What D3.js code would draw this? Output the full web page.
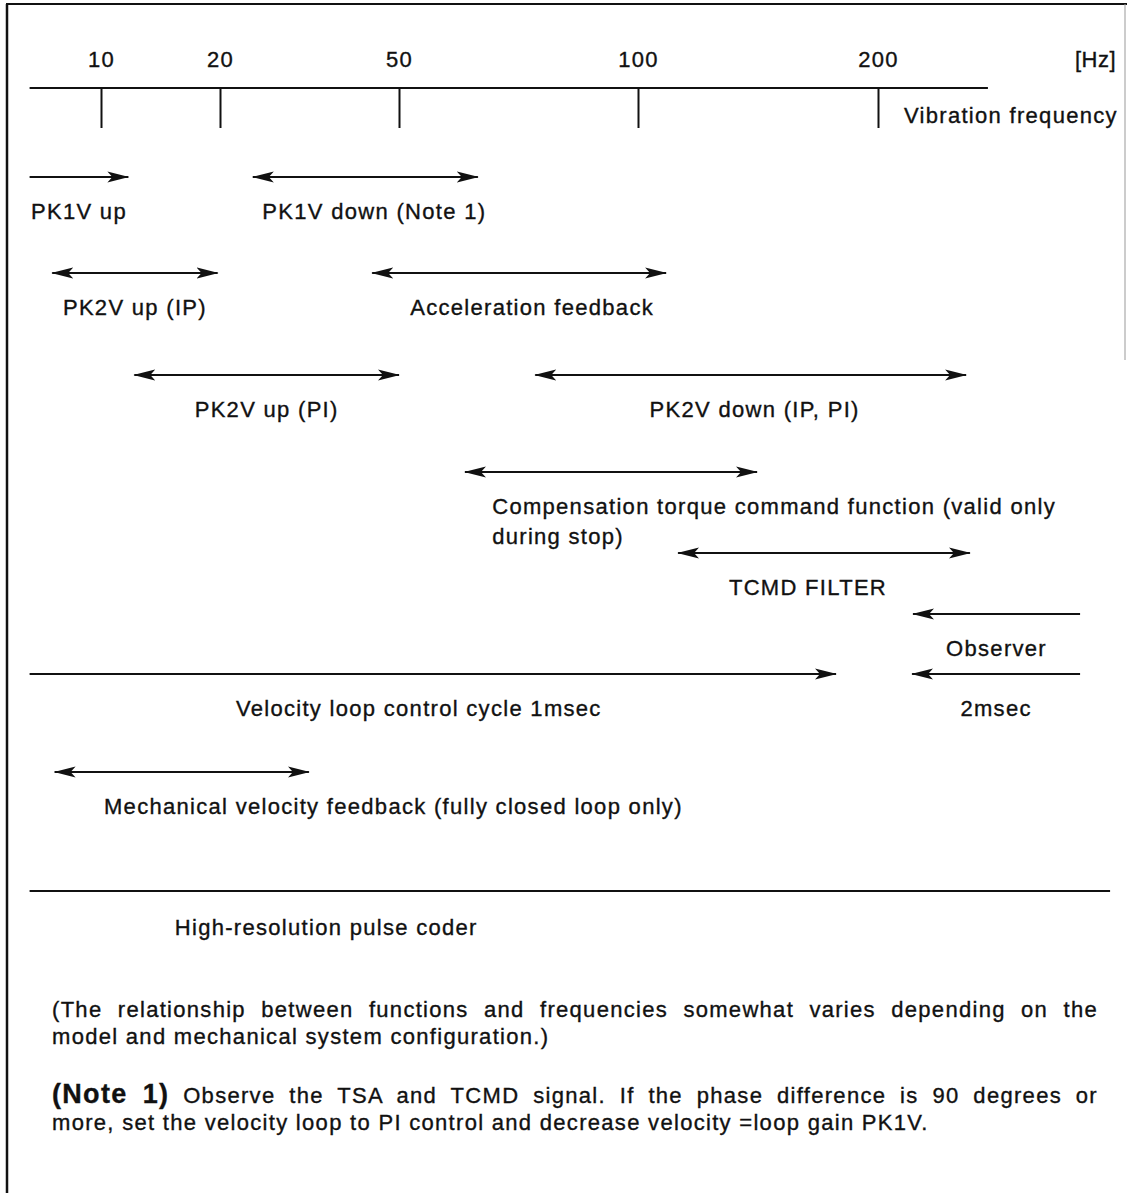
<!DOCTYPE html>
<html><head><meta charset="utf-8">
<script src="https://cdn.jsdelivr.net/npm/d3@7"></script>
<style>
body{margin:0;background:#fff}
svg{display:block}
text{font-family:"Liberation Sans",Arial,Helvetica,sans-serif;fill:#111;stroke:#111;stroke-width:0.35px;font-size:22px;letter-spacing:1.3px}
</style></head>
<body><svg id="c" width="1127" height="1193"></svg>
<script>
// ---------- data ----------
const tickValues = [10, 20, 50, 100, 200];
const tickLabels = ["10", "20", "50", "100", "200"];
const unitLabel = "[Hz]";
const axisTitle = "Vibration frequency";
const axisExtent = [4.0, 245.8];

const rangeLabels = [
  "PK1V up",
  "PK1V down (Note 1)",
  "PK2V up (IP)",
  "Acceleration feedback",
  "PK2V up (PI)",
  "PK2V down (IP, PI)",
  "Compensation torque command function (valid only|during stop)",
  "TCMD FILTER",
  "Observer",
  "Velocity loop control cycle 1msec",
  "2msec",
  "Mechanical velocity feedback (fully closed loop only)",
  "High-resolution pulse coder"
];
const rangeLow  = [4.0, 25.5, 5.9, 45.5, 12.8, 78.5, 63.8, 116.7, 214.6, 4.0, 214.2, 6.1, 4.0];
const rangeHigh = [12.3, 66.5, 19.8, 111.7, 50.0, 236.7, 149.6, 238.3, 284.2, 182.5, 284.2, 34.9, 296.7];
const rangeHeads = ["end", "both", "both", "both", "both", "both", "both", "both", "start", "end", "start", "both", "none"];
const rangeRow = [0, 0, 1, 1, 2, 2, 3, 4, 5, 6, 6, 7, 8];

const noteText = "(The relationship between functions and frequencies somewhat varies depending on the";
const noteText2 = "model and mechanical system configuration.)";
const note1Head = "(Note 1)";
const note1Text = "Observe the TSA and TCMD signal. If the phase difference is 90 degrees or";
const note1Text2 = "more, set the velocity loop to PI control and decrease velocity =loop gain PK1V.";

// ---------- layout ----------
const rowY = [177, 273, 375, 472, 553, 614, 674, 772, 891];
const axisY = 88;
const labelGap = 42;
const labelStartHz = {6: 69.5, 11: 10.25, 12: 16.2};
const labelShift = {1: 9, 3: 13, 5: 4, 7: -16, 9: -14};

const svg = d3.select("#c");
const ink = "#111";

const x = d3.scaleLinear().domain(tickValues).range([101, 220, 399, 638, 878]);

// frame
svg.append("line").attr("x1", 7).attr("x2", 7).attr("y1", 4).attr("y2", 1193)
  .attr("stroke", ink).attr("stroke-width", 2.5);
svg.append("line").attr("x1", 6).attr("x2", 1127).attr("y1", 4).attr("y2", 4)
  .attr("stroke", ink).attr("stroke-width", 2);
svg.append("line").attr("x1", 1125).attr("x2", 1125).attr("y1", 4).attr("y2", 360)
  .attr("stroke", "#999").attr("stroke-width", 1);

// arrow markers
const defs = svg.append("defs");
defs.append("marker").attr("id", "ah")
  .attr("viewBox", "0 -6 22 12").attr("refX", 21).attr("refY", 0)
  .attr("markerWidth", 22).attr("markerHeight", 12)
  .attr("markerUnits", "userSpaceOnUse").attr("orient", "auto-start-reverse")
  .append("path").attr("d", "M0,-5.5 L22,0 L0,5.5 L5,0 Z").attr("fill", ink);

// axis
svg.append("line").attr("x1", x(axisExtent[0])).attr("x2", x(axisExtent[1]))
  .attr("y1", axisY).attr("y2", axisY).attr("stroke", ink).attr("stroke-width", 2.2);
const ax = svg.append("g").attr("transform", `translate(0,${axisY})`)
  .call(d3.axisTop(x).tickValues(tickValues).tickFormat((d, i) => tickLabels[i])
    .tickSizeInner(-40).tickSizeOuter(0).tickPadding(21));
ax.select(".domain").remove();
ax.selectAll(".tick line").attr("stroke", ink).attr("stroke-width", 2);
ax.selectAll(".tick text").attr("fill", ink).style("font-size", "22px");
ax.attr("font-family", null).attr("font-size", null);

svg.append("text").attr("x", 1116).attr("y", 67).attr("text-anchor", "end")
  .style("letter-spacing", "0.5px").text(unitLabel);
svg.append("text").attr("x", 904).attr("y", 123).text(axisTitle);

// ranges
const items = rangeLabels.map((l, i) => ({label: l, lo: rangeLow[i], hi: rangeHigh[i], heads: rangeHeads[i], row: rangeRow[i], i}));
const g = svg.append("g");
g.selectAll("line.r").data(items).join("line").attr("class", "r")
  .attr("x1", d => x(d.lo)).attr("x2", d => x(d.hi))
  .attr("y1", d => rowY[d.row]).attr("y2", d => rowY[d.row])
  .attr("stroke", ink).attr("stroke-width", 2)
  .attr("marker-start", d => (d.heads === "start" || d.heads === "both") ? "url(#ah)" : null)
  .attr("marker-end", d => (d.heads === "end" || d.heads === "both") ? "url(#ah)" : null);

g.selectAll("text.r").data(items).join("text").attr("class", "r")
  .each(function(d) {
    const t = d3.select(this);
    const start = labelStartHz[d.i];
    const xx = start !== undefined ? x(start) : (x(d.lo) + x(d.hi)) / 2 + (labelShift[d.i] || 0);
    t.attr("text-anchor", start !== undefined ? "start" : "middle")
     .attr("x", xx).attr("y", rowY[d.row] + labelGap + (d.row === 8 ? 2 : 0));
    d.label.split("|").forEach((s, k) => {
      t.append("tspan").attr("x", xx).attr("dy", k === 0 ? 0 : 30).text(s);
    });
  });

// notes
const left = 52, right = 1098;
function justify(sel) {
  const txt = sel.text();
  const n = (txt.match(/ /g) || []).length;
  const len = sel.node().getComputedTextLength();
  sel.attr("word-spacing", ((right - left) - len) / n);
}
const n1 = svg.append("text").attr("x", left).attr("y", 1017).text(noteText);
justify(n1);
svg.append("text").attr("x", left).attr("y", 1044).text(noteText2);
const n2 = svg.append("text").attr("x", left).attr("y", 1103);
n2.append("tspan").style("font-weight", "bold").style("font-size", "27px").text(note1Head);
n2.append("tspan").text(" " + note1Text);
justify(n2);
svg.append("text").attr("x", left).attr("y", 1130).text(note1Text2);
</script>
</body></html>
